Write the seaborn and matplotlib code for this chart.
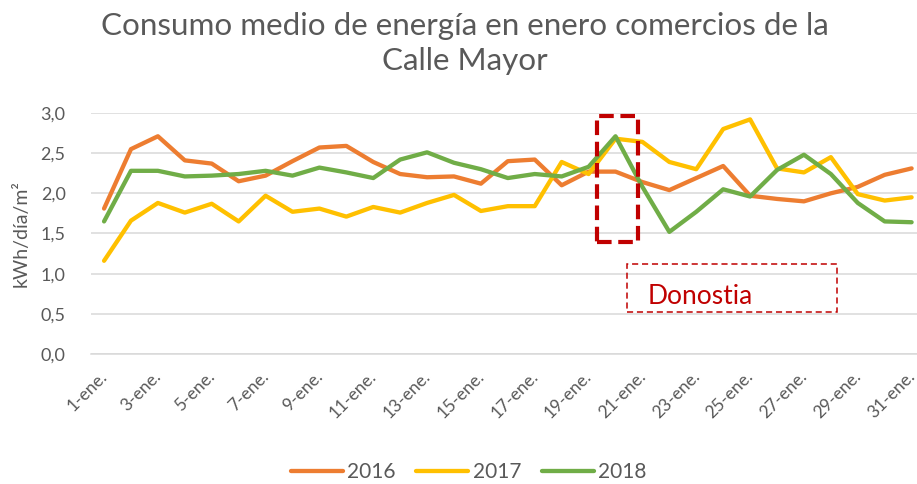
import matplotlib
matplotlib.use("Agg")
import matplotlib.pyplot as plt
import matplotlib.transforms as mtransforms
from matplotlib.patches import Rectangle
from matplotlib.lines import Line2D
import seaborn as sns
import numpy as np
import pandas as pd

# daily mean consumption, January (kWh/dia/m2)
days = list(range(1, 32))
years = ["2016", "2017", "2018"]
v2016 = [1.81, 2.55, 2.71, 2.41, 2.37, 2.15, 2.22, 2.40, 2.57, 2.59,
         2.39, 2.24, 2.20, 2.21, 2.12, 2.40, 2.42, 2.10, 2.27, 2.27,
         2.14, 2.04, 2.19, 2.34, 1.97, 1.93, 1.90, 2.00, 2.08, 2.23, 2.31]
v2017 = [1.16, 1.66, 1.88, 1.76, 1.87, 1.65, 1.97, 1.77, 1.81, 1.71,
         1.83, 1.76, 1.88, 1.98, 1.78, 1.84, 1.84, 2.39, 2.24, 2.68,
         2.64, 2.39, 2.30, 2.80, 2.92, 2.31, 2.26, 2.45, 1.99, 1.91, 1.95]
v2018 = [1.65, 2.28, 2.28, 2.21, 2.22, 2.24, 2.28, 2.22, 2.32, 2.26,
         2.19, 2.42, 2.51, 2.38, 2.30, 2.19, 2.24, 2.21, 2.33, 2.71,
         2.08, 1.52, 1.77, 2.05, 1.96, 2.29, 2.48, 2.24, 1.88, 1.65, 1.64]
tick_days = list(range(1, 32, 2))
tick_labels = [f"{d}-ene." for d in tick_days]
y_ticks = [0.0, 0.5, 1.0, 1.5, 2.0, 2.5, 3.0]

colors = ["#ED7D31", "#FFC000", "#70AD47"]
grey = "#595959"

df = pd.DataFrame({
    "dia": days * 3,
    "valor": v2016 + v2017 + v2018,
    "year": [y for y in years for _ in days],
})

sns.set_style("white")
plt.rcParams["font.family"] = ["Lato", "DejaVu Sans"]

fig = plt.figure(figsize=(9.17, 4.84), dpi=100)
ax = fig.add_axes([0.0988, 0.2686, 0.910, 0.498])

sns.lineplot(data=df, x="dia", y="valor", hue="year", palette=colors,
             linewidth=3.1, legend=False, ax=ax, zorder=3)

ax.set_xlim(0.5, 31.5)
ax.set_ylim(0, 3.0)
ax.set_yticks(y_ticks)
ax.set_yticklabels([f"{t:.1f}".replace(".", ",") for t in y_ticks],
                   fontsize=13, color=grey)
ax.yaxis.grid(True, color="#D9D9D9", linewidth=1.1)
ax.tick_params(axis="y", length=0, pad=18)

# category boundaries every 2 days carry the tick marks
ax.set_xticks([d - 0.5 for d in tick_days])
ax.set_xticklabels([])
ax.set_xticks(tick_days, minor=True)
ax.set_xticklabels(tick_labels, minor=True, rotation=45, ha="right",
                   va="top", rotation_mode="anchor", fontsize=12.5, color=grey)
ax.tick_params(axis="x", which="major", length=5, color="#D9D9D9", width=1.1,
               direction="out")
ax.tick_params(axis="x", which="minor", length=0, pad=10)
shift = mtransforms.ScaledTranslation(-5 / 100, 0, fig.dpi_scale_trans)
for lab in ax.xaxis.get_minorticklabels():
    lab.set_transform(lab.get_transform() + shift)

for s in ["top", "right", "left"]:
    ax.spines[s].set_visible(False)
ax.spines["bottom"].set_color("#D9D9D9")
ax.spines["bottom"].set_linewidth(1.1)
ax.set_xlabel("")
ax.set_ylabel("kWh/día/m²", fontsize=14, color=grey, labelpad=8)

# highlight boxes
ax.add_patch(Rectangle((19.3, 1.39), 1.53, 1.57, fill=False, edgecolor="#C00000",
                       linewidth=3, linestyle=(0, (3.5, 1.6)), clip_on=False,
                       zorder=4))
ax.add_patch(Rectangle((20.44, 0.52), 7.78, 0.60, fill=False, edgecolor="#C00000",
                       linewidth=1.1, linestyle=(0, (4, 2.5)), clip_on=False,
                       zorder=4))
ax.text(23.13, 0.72, "Donostia", fontsize=19, color="#C00000",
        ha="center", va="center", zorder=5)

fig.text(0.507, 0.975, "Consumo medio de energía en enero comercios de la\nCalle Mayor",
         ha="center", va="top", fontsize=22.6, color=grey, linespacing=1.3)

handles = [Line2D([], [], color=c, linewidth=3.1, solid_capstyle="round") for c in colors]
fig.legend(handles, years, loc="center", bbox_to_anchor=(0.511, 0.025),
           ncol=3, frameon=False, fontsize=15, handlelength=2.5,
           handletextpad=0.2, columnspacing=1.0, labelcolor=grey)

fig.savefig("out.png", dpi=100)
